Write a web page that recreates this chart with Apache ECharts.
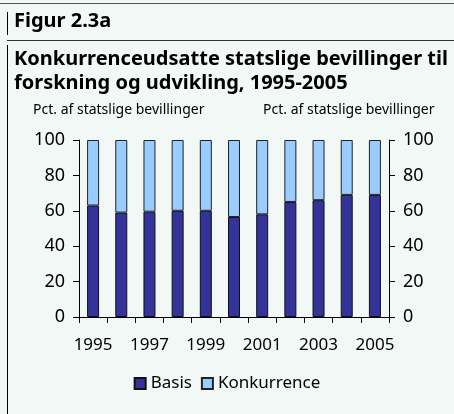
<!DOCTYPE html>
<html lang="da">
<head>
    <meta charset="utf-8">
    <title>Figur 2.3a</title>
    <script src="https://cdn.jsdelivr.net/npm/echarts@6/dist/echarts.min.js"></script>
    <style>
        html, body { margin: 0; padding: 0; background: #f1f8f6; }
        #main { width: 454px; height: 414px; }
    </style>
</head>
<body>
<div id="main"></div>

<script type="text/javascript">

    // data
    var years = ['1995','1996','1997','1998','1999','2000','2001','2002','2003','2004','2005'];
    var basis = [63, 59, 59.5, 60, 60, 56.5, 58, 65, 66, 69, 69];
    var konkurrence = [37, 41, 40.5, 40, 40, 43.5, 42, 35, 34, 31, 31];
    var yTicks = [0, 20, 40, 60, 80, 100];

    var font = 'Noto Sans';
    var myChart = echarts.init(document.getElementById('main'));

    var yAxisBase = {
        type: 'value',
        min: yTicks[0],
        max: yTicks[yTicks.length - 1],
        interval: 20,
        splitLine: { show: false },
        axisLine: { show: true, lineStyle: { color: '#000', width: 1 } },
        axisTick: { show: true, length: 6, lineStyle: { color: '#000' } },
        axisLabel: { color: '#000', fontSize: 18, fontFamily: font, margin: 14 }
    };

    myChart.setOption({
        backgroundColor: '#f1f8f6',
        animation: false,
        graphic: [
            // frame lines
            { type: 'line', shape: { x1: 0, y1: 3.5, x2: 454, y2: 3.5 }, style: { stroke: '#555', lineWidth: 1 } },
            { type: 'line', shape: { x1: 7.5, y1: 12, x2: 7.5, y2: 35 }, style: { stroke: '#000', lineWidth: 1 } },
            { type: 'line', shape: { x1: 7, y1: 40.5, x2: 454, y2: 40.5 }, style: { stroke: '#333', lineWidth: 1 } },
            { type: 'line', shape: { x1: 7.5, y1: 45, x2: 7.5, y2: 414 }, style: { stroke: '#000', lineWidth: 1 } },
            // headings
            { type: 'text', left: 14, top: 11, style: { text: 'Figur 2.3a', fill: '#000', font: 'bold 20px "Noto Sans"' } },
            { type: 'text', left: 14, top: 47, style: { text: 'Konkurrenceudsatte statslige bevillinger til\nforskning og udvikling, 1995-2005', fill: '#000', font: 'bold 20px "Noto Sans"', lineHeight: 24 } },
            // axis captions
            { type: 'text', left: 33, top: 103, style: { text: 'Pct. af statslige bevillinger', fill: '#000', font: '14px "Noto Sans"' } },
            { type: 'text', left: 263, top: 103, style: { text: 'Pct. af statslige bevillinger', fill: '#000', font: '14px "Noto Sans"' } }
        ],
        grid: { left: 79, right: 65, top: 140, bottom: 97, containLabel: false },
        legend: {
            data: ['Basis', 'Konkurrence'],
            left: 'center',
            top: 370,
            itemWidth: 11,
            itemHeight: 11,
            itemGap: 9,
            icon: 'rect',
            textStyle: { color: '#000', fontSize: 17, fontFamily: font }
        },
        xAxis: {
            type: 'category',
            data: years,
            axisLine: { lineStyle: { color: '#000' } },
            axisTick: { show: true, interval: 0, length: 6, lineStyle: { color: '#000' } },
            axisLabel: { interval: 1, color: '#000', fontSize: 17, fontFamily: font, margin: 20 }
        },
        yAxis: [
            Object.assign({}, yAxisBase, { position: 'left' }),
            Object.assign({}, yAxisBase, { position: 'right' })
        ],
        series: [{
            name: 'Basis',
            type: 'bar',
            stack: 'total',
            barWidth: 12,
            data: basis,
            itemStyle: { color: '#333399', borderColor: '#111', borderWidth: 1 }
        }, {
            name: 'Konkurrence',
            type: 'bar',
            stack: 'total',
            barWidth: 12,
            data: konkurrence,
            itemStyle: { color: '#99ccff', borderColor: '#222', borderWidth: 1 }
        }]
    });

</script>
</body>
</html>
